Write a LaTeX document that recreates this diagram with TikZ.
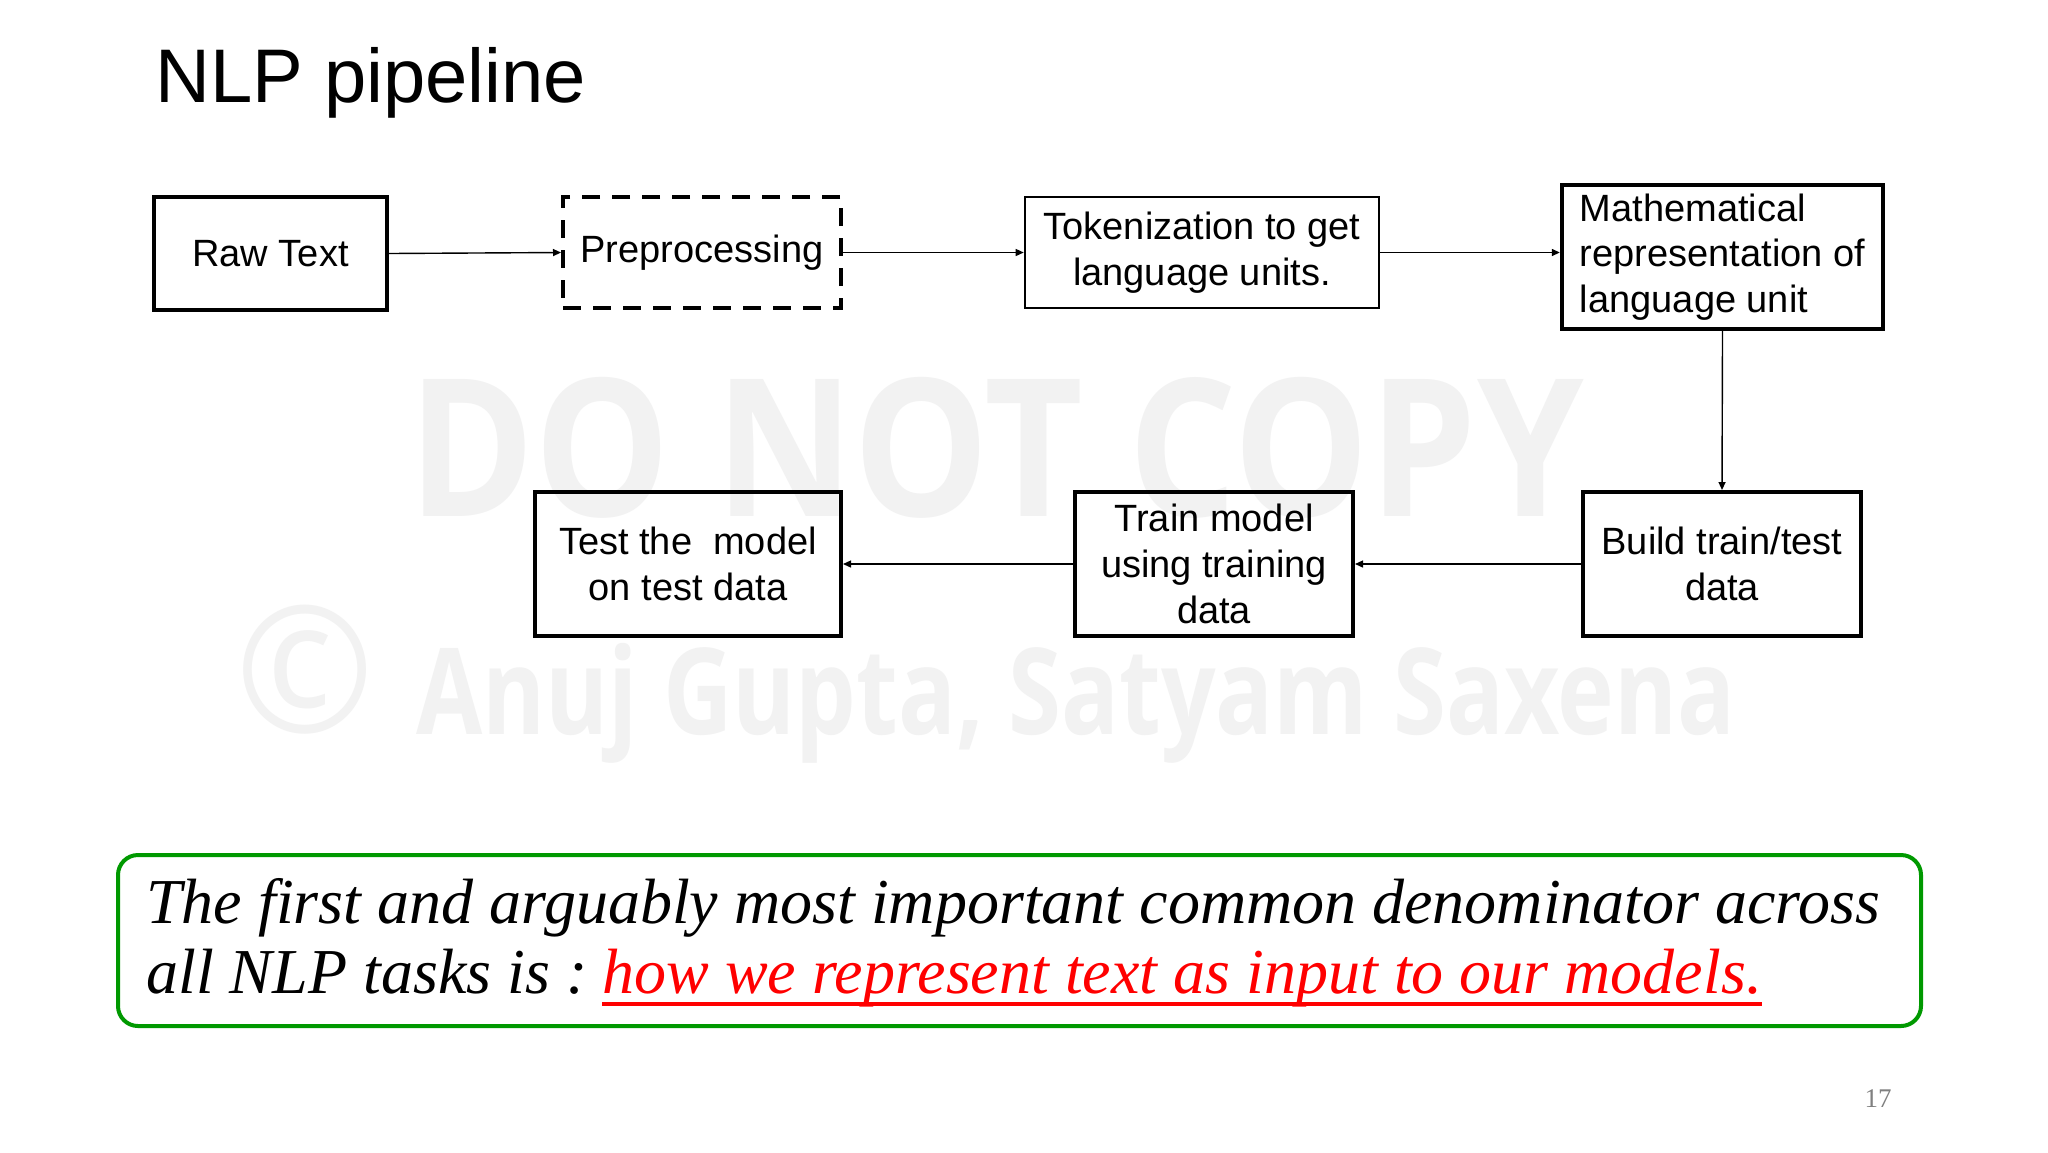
\documentclass[tikz,border=0pt]{standalone}
\usepackage{fontspec}
\setmainfont{Liberation Sans}
\newfontfamily\serifit{Liberation Serif}
\newfontfamily\wmfont{Open Sans}
\usetikzlibrary{arrows.meta}
\definecolor{boxgreen}{RGB}{0,153,0}
\definecolor{wmgray}{RGB}{242,242,242}
\definecolor{redtxt}{RGB}{255,0,0}
\begin{document}
\begin{tikzpicture}[x=0.5pt,y=-0.5pt,
  stepbox/.style={draw, line width=2pt, inner sep=0pt, align=center,
    font=\fontsize{19}{22.8}\selectfont},
  conn/.style={line width=0.7pt, -{Triangle[length=4pt,width=3.5pt]}},
  wmtext/.style={text=wmgray, inner sep=0pt, anchor=base, font=\wmfont\bfseries},
  notetext/.style={anchor=base west, inner sep=0pt,
    font=\serifit\itshape\fontsize{32}{35}\selectfont}]
\useasboundingbox (0,0) rectangle (2048,1152);
\fill[white] (0,0) rectangle (2048,1152);
% watermark
\node[wmtext, font=\wmfont\bfseries\fontsize{96}{96}\selectfont] (wm1) at (996,516)
  {\scalebox{0.89}[1]{DO NOT COPY}};
\node[wmtext, anchor=center, font=\wmfont\fontsize{88}{88}\selectfont] (wmc) at (305,670)
  {\scalebox{0.95}[1]{©}};
\node[wmtext, font=\wmfont\bfseries\fontsize{60}{60}\selectfont] (wm2) at (1076,734)
  {\scalebox{0.8}[1]{Anuj Gupta, Satyam Saxena}};
% title
\node[anchor=base west, inner sep=0pt, font=\fontsize{38}{45}\selectfont] (title) at (155,102) {NLP pipeline};
% boxes
\node[stepbox, minimum width=116.5pt, minimum height=56.5pt] (raw) at (270.5,253.5) {Raw Text};
\node[stepbox, dash pattern=on 9pt off 6pt, minimum width=139pt, minimum height=55.5pt] (pre) at (702,252.5) {Preprocessing};
\node[stepbox, line width=1.3pt, minimum width=177pt, minimum height=55.5pt] (tok) at (1202,252.5) {Tokenization to get\\language units.};
\node[stepbox, line width=2.2pt, align=left, minimum width=160.5pt, minimum height=72pt] (math) at (1722.5,257) {Mathematical\\representation of\\language unit};
\node[stepbox, minimum width=139pt, minimum height=72pt] (build) at (1722,564) {Build train/test\\data};
\node[stepbox, minimum width=139pt, minimum height=72pt] (train) at (1214,564) {Train model\\using training\\data};
\node[stepbox, minimum width=153pt, minimum height=72pt] (test) at (688,564) {Test the~ model\\on test data};
% connectors
\draw[conn] (raw.east) -- (pre.west);
\draw[conn] (pre.east) -- (tok.west);
\draw[conn] (tok.east) -- (tok.east -| math.west);
\draw[conn] (math.south) -- (build.north);
\draw[conn] (build.west) -- (train.east);
\draw[conn] (train.west) -- (test.east);
% note box
\node[draw=boxgreen, line width=2pt, rounded corners=10pt, minimum width=901.5pt, minimum height=85.5pt] (note) at (1019.5,940.5) {};
\node[notetext] (l1) at (146,923) {The first and arguably most important common denominator across};
\node[notetext] (l2) at (146,993) {all NLP tasks is :};
\node[notetext, text=redtxt] (l3) at (602,993) {how we represent text as input to our models.};
\draw[redtxt, line width=2pt] ([yshift=-5.5pt]l3.base west) -- ([yshift=-5.5pt]l3.base east);
% page number
\node[anchor=base east, inner sep=0pt, text=black!50, font=\serifit\fontsize{13.5}{16}\selectfont] (pg) at (1892,1107) {17};
\end{tikzpicture}
\end{document}
